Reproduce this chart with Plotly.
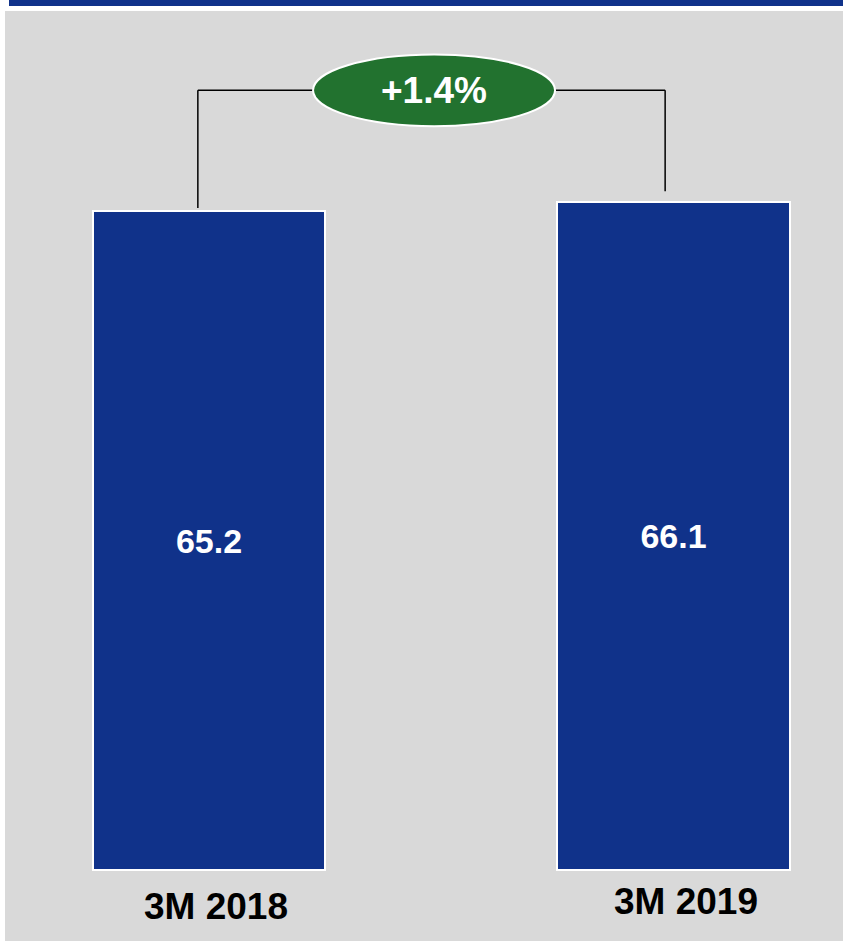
import plotly.graph_objects as go

categories = ["3M 2018", "3M 2019"]
values = [65.2, 66.1]

W, H = 843, 942
NAVY = "#10328a"
GREEN = "#22722f"
GRAY = "#d9d9d9"
FONT = "Liberation Sans, Arial, sans-serif"

x_pos = list(range(len(categories)))
change = (values[1] / values[0] - 1) * 100
change_label = f"{change:+.1f}%"

fig = go.Figure()
fig.add_trace(go.Bar(
    x=x_pos, y=values, width=0.5,
    marker=dict(color=NAVY, line=dict(color="white", width=2)),
    text=[f"<b>{v:.1f}</b>" for v in values],
    textposition="inside", insidetextanchor="middle",
    textfont=dict(family=FONT, size=34, color="white"),
    hoverinfo="skip",
))

# background panels (paper coordinates)
shapes = [
    dict(type="rect", xref="paper", yref="paper", x0=5 / W, x1=1, y0=1 / H, y1=1 - 11 / H,
         fillcolor=GRAY, line=dict(width=0), layer="below"),
    dict(type="rect", xref="paper", yref="paper", x0=9 / W, x1=1, y0=1 - 6 / H, y1=1,
         fillcolor=NAVY, line=dict(width=0), layer="below"),
]

# bracket connecting the two bars, derived from the data
level = max(values) + 11.1
lx = x_pos[0] - 0.024
rx = x_pos[1] - 0.018
ell_x0, ell_x1 = 0.224, 0.745
ell_h = 3.55
line_style = dict(color="black", width=1.5)
shapes += [
    dict(type="line", x0=lx, x1=lx, y0=values[0] + 0.35, y1=level, line=line_style),
    dict(type="line", x0=lx, x1=ell_x0, y0=level, y1=level, line=line_style),
    dict(type="line", x0=ell_x1, x1=rx, y0=level, y1=level, line=line_style),
    dict(type="line", x0=rx, x1=rx, y0=values[1] + 1.1, y1=level, line=line_style),
    dict(type="circle", x0=ell_x0, x1=ell_x1, y0=level - ell_h, y1=level + ell_h,
         fillcolor=GREEN, line=dict(color="white", width=2)),
]

annotations = [
    dict(x=(ell_x0 + ell_x1) / 2, y=level, text=f"<b>{change_label}</b>", showarrow=False,
         font=dict(family=FONT, size=37, color="white"), xanchor="center", yanchor="middle"),
]
label_shift = [(7, -36), (12, -31)]
for xi, cat, (dx, dy) in zip(x_pos, categories, label_shift):
    annotations.append(dict(
        x=xi, y=0, text=f"<b>{cat}</b>", showarrow=False, xshift=dx,
        yshift=dy, yanchor="middle", xanchor="center",
        font=dict(family=FONT, size=37, color="black"),
    ))

s = 10.1  # px per unit
y0 = -(H - 870) / s
y1 = 870 / s
px_per_x = 464.5
xr0 = -209 / px_per_x
xr1 = xr0 + W / px_per_x

fig.update_layout(
    width=W, height=H, margin=dict(l=0, r=0, t=0, b=0),
    paper_bgcolor="white", plot_bgcolor="rgba(0,0,0,0)",
    showlegend=False, shapes=shapes, annotations=annotations,
    xaxis=dict(range=[xr0, xr1], visible=False, fixedrange=True),
    yaxis=dict(range=[y0, y1], visible=False, fixedrange=True),
    bargap=0,
)
fig.write_html("out.html")
